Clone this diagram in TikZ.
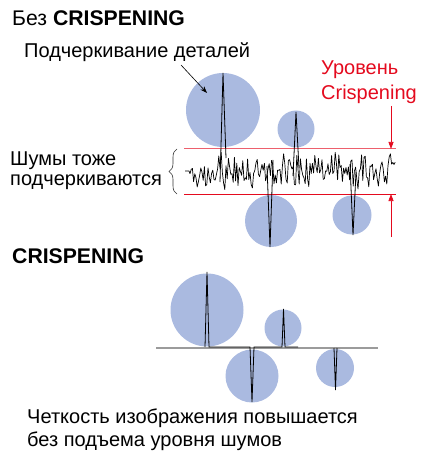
\documentclass[tikz,border=0pt]{standalone}
\usepackage{fontspec}
\setmainfont{Liberation Sans}
\usetikzlibrary{arrows.meta,decorations.pathreplacing}
\definecolor{BlobBlue}{RGB}{170,186,224}
\definecolor{CrispRed}{RGB}{228,10,30}
\definecolor{BaseGray}{RGB}{155,155,155}
\tikzset{
  blob/.style={circle, fill=BlobBlue, draw=none, inner sep=0pt, minimum size=#1},
  titel/.style={anchor=base west, inner sep=0pt, font=\fontsize{21.2}{24}\selectfont\bfseries},
  legenda/.style={anchor=base west, inner sep=0pt, align=left, font=\fontsize{20}{20}\selectfont},
  rotlabel/.style={anchor=base west, inner sep=0pt, align=left, text=CrispRed,
                   font=\fontsize{20}{25}\selectfont},
  % signal lines and level marks
  noiseline/.style={black, line width=0.7pt, line join=round},
  spikeline/.style={black, line width=0.8pt, line join=miter},
  baseline/.style={BaseGray, line width=1.3pt},
  levelline/.style={CrispRed, line width=1pt},
  levelarrow/.style={-{Triangle[length=7pt, width=5pt]}, CrispRed, line width=0.7pt},
  pointer/.style={-{Stealth[length=7pt, width=5pt]}, black, line width=0.6pt},
  bracket/.style={decorate, decoration={brace, amplitude=8pt}, black!80, line width=0.6pt},
}

\begin{document}
\begin{tikzpicture}[x=1pt, y=-1pt]
  \useasboundingbox (0,0) rectangle (434,457);

  % --- without crispening (multi-line nodes sit on their last baseline)
  \node[titel] (titleoff) at (12,26) {\mdseries Без \bfseries CRISPENING};
  \node[legenda] (detaillabel) at (24,58) {Подчеркивание деталей};
  \node[rotlabel] (levellabel) at (321,100) {Уровень\\Crispening};
  \node[legenda, font=\fontsize{20}{20}\selectfont] (noiselabel) at (10,185) {Шумы тоже\\подчеркиваются};

  \node[blob=74pt] (bigup)     at (223,110) {};
  \node[blob=37pt] (smallup)   at (296,129) {};
  \node[blob=52pt] (bigdown)   at (271,221) {};
  \node[blob=39pt] (smalldown) at (352,215) {};

  \coordinate (levtopL) at (184,149);  \coordinate (levtopR) at (396,149);
  \coordinate (levbotL) at (184,194);  \coordinate (levbotR) at (396,194);
  \draw[levelline, CrispRed!65] (levtopL) -- (levtopR);
  \draw[levelline] (levbotL) -- (levbotR);

  \pgfmathsetseed{11}
  \draw[noiseline] (185,171) -- (189,171)
    \foreach \nx in {190,191.2,...,396} { -- (\nx,{171+13*rand+9*rand}) };

  \draw[spikeline] (220,182) -- (223,73) -- (226,158);
  \draw[spikeline] (293,176) -- (296,112) -- (299,168);
  \draw[spikeline] (267,166) -- (270,247) -- (273,160);
  \draw[spikeline] (350,164) -- (353,235) -- (356,172);

  \coordinate (bracetop) at (177,149);
  \coordinate (bracebot) at (177,194);
  \draw[bracket] (bracebot) -- (bracetop);

  \coordinate (detailfrom) at (181,65);
  \coordinate (detailto)   at (207,93);
  \draw[pointer] (detailfrom) -- (detailto);

  \coordinate (levtopstart) at (391,106);
  \coordinate (levbotstart) at (391,237);
  \draw[levelarrow] (levtopstart) -- (levtopR -| levtopstart);
  \draw[levelarrow] (levbotstart) -- (levbotR -| levbotstart);

  % --- with crispening
  \node[titel] (titleon) at (12,263) {CRISPENING};

  \node[blob=73pt] (crispbigup)     at (207,310) {};
  \node[blob=37pt] (crispsmallup)   at (283,328) {};
  \node[blob=53pt] (crispbigdown)   at (252,376) {};
  \node[blob=38pt] (crispsmalldown) at (335,368) {};

  \coordinate (baseL) at (156,348);
  \coordinate (baseR) at (378,348);
  \draw[baseline] (baseL) -- (baseR);

  \draw[spikeline] (205,347) -- (207,272) -- (209,347) -- (250,347)
    -- (252,402) -- (254,347) -- (282,347) -- (283.5,309) -- (285,347) -- (298,347);
  \draw[spikeline] (334,348) -- (335.5,390) -- (337,348);

  \node[legenda, font=\fontsize{20}{22.7}\selectfont] (resultlabel) at (27,446)
    {Четкость изображения повышается\\без подъема уровня шумов};
\end{tikzpicture}
\end{document}
